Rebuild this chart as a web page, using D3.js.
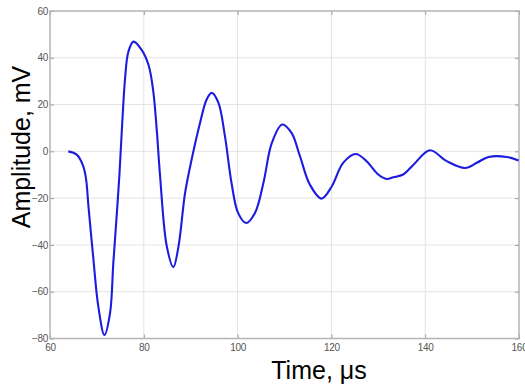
<!DOCTYPE html>
<html>
<head>
<meta charset="utf-8">
<script src="https://cdn.jsdelivr.net/npm/d3@7"></script>
<style>
  html, body { margin: 0; padding: 0; background: #fff; }
  svg { display: block; }
</style>
</head>
<body>
<script>
// signal samples: time (µs) and amplitude (mV)
const times = [63.9, 65.7, 67.1, 67.7, 68.2, 69.2, 70.3, 71.6, 72.8, 73.5, 74.2, 74.8, 75.4, 76.0, 76.7, 77.8,
    79.5, 81.0, 82.0, 82.75, 83.45, 84.9, 86.3, 87.4, 88.8, 90.2, 92.0, 93.4, 94.5, 95.9, 97.3, 98.7,
    100.1, 101.8, 103.7, 105.5, 107.3, 109.5, 111.5, 113.3, 115.4, 117.9, 120.1, 122.5, 125.2, 127.5,
    130.0, 131.8, 133.2, 135.3, 137.5, 141.0, 144.6, 148.5, 151.0, 153.5, 157.4, 159.9]
const amplitudes = [0, -1.4, -6.4, -12, -23.5, -44.9, -66.3, -78.5, -69.2, -47.8, -28, -10, 12, 31, 42.5, 46.9,
    43.5, 37, 26, 9.5, -10, -40.6, -49.5, -40.6, -17.8, -3.5, 12.2, 22.2, 25, 20.8, 6.5, -13.5,
    -26.3, -30.6, -26.3, -13.5, 3.6, 11.5, 7.9, -2.1, -14.2, -20.2, -14.9, -4.9, -1.1, -4.2,
    -9.9, -11.8, -11.1, -9.9, -5.7, 0.5, -4.2, -7.1, -4.9, -2.4, -2.4, -3.9]
const xTicks = [60, 80, 100, 120, 140, 160]
const yTicks = [-80, -60, -40, -20, 0, 20, 40, 60]

const width = 525, height = 385
const margin = {top: 11, right: 6, bottom: 46.5, left: 50}

const svg = d3.select('body').append('svg')
    .attr('width', width)
    .attr('height', height)
    .style('font-family', 'Arial, "Liberation Sans", sans-serif')

const x = d3.scaleLinear().domain([60, 160]).range([margin.left, width - margin.right])
const y = d3.scaleLinear().domain([-80, 60]).range([height - margin.bottom, margin.top])

// grid
svg.append('g')
    .selectAll('line')
    .data(xTicks.slice(1, -1))
    .join('line')
    .attr('x1', d => x(d)).attr('x2', d => x(d))
    .attr('y1', y(60)).attr('y2', y(-80))
    .attr('stroke', '#e4e4e4')
svg.append('g')
    .selectAll('line')
    .data(yTicks.slice(1, -1))
    .join('line')
    .attr('y1', d => y(d)).attr('y2', d => y(d))
    .attr('x1', x(60)).attr('x2', x(160))
    .attr('stroke', '#e4e4e4')

// axes, ticks pointing inside
const tickColor = '#9a9a9a'
const styleAxis = (g) => {
    g.select('.domain').remove()
    g.selectAll('line').attr('stroke', tickColor)
    g.selectAll('text').attr('fill', '#555').style('font-size', '10px').style('letter-spacing', '-0.3px')
}
svg.append('g')
    .attr('transform', `translate(0,${y(-80)})`)
    .call(d3.axisBottom(x).tickValues(xTicks).tickSize(-4).tickPadding(5))
    .call(styleAxis)
svg.append('g')
    .attr('transform', `translate(0,${y(60)})`)
    .call(d3.axisTop(x).tickValues(xTicks).tickSize(-4).tickFormat(''))
    .call(styleAxis)
svg.append('g')
    .attr('transform', `translate(${x(60)},0)`)
    .call(d3.axisLeft(y).tickValues(yTicks).tickSize(-4).tickPadding(2))
    .call(styleAxis)
svg.append('g')
    .attr('transform', `translate(${x(160)},0)`)
    .call(d3.axisRight(y).tickValues(yTicks).tickSize(-4).tickFormat(''))
    .call(styleAxis)

// frame
svg.append('rect')
    .attr('x', x(60)).attr('y', y(60))
    .attr('width', x(160) - x(60)).attr('height', y(-80) - y(60))
    .attr('fill', 'none')
    .attr('stroke', '#b4b4b4')
    .attr('stroke-width', 1.5)

// signal
const points = times.map((t, i) => [t, amplitudes[i]])
svg.append('path')
    .datum(points)
    .attr('fill', 'none')
    .attr('stroke', '#1c1ce0')
    .attr('stroke-width', 2.1)
    .attr('stroke-linejoin', 'round')
    .attr('d', d3.line().x(d => x(d[0])).y(d => y(d[1])).curve(d3.curveCatmullRom.alpha(0.5)))

// labels
svg.append('text')
    .attr('x', 319).attr('y', 379)
    .attr('text-anchor', 'middle')
    .style('font-size', '25px')
    .text('Time, \u03bcs')
svg.append('text')
    .attr('transform', 'translate(30,147) rotate(-90)')
    .attr('text-anchor', 'middle')
    .style('font-size', '25px')
    .text('Amplitude, mV')
</script>
</body>
</html>
